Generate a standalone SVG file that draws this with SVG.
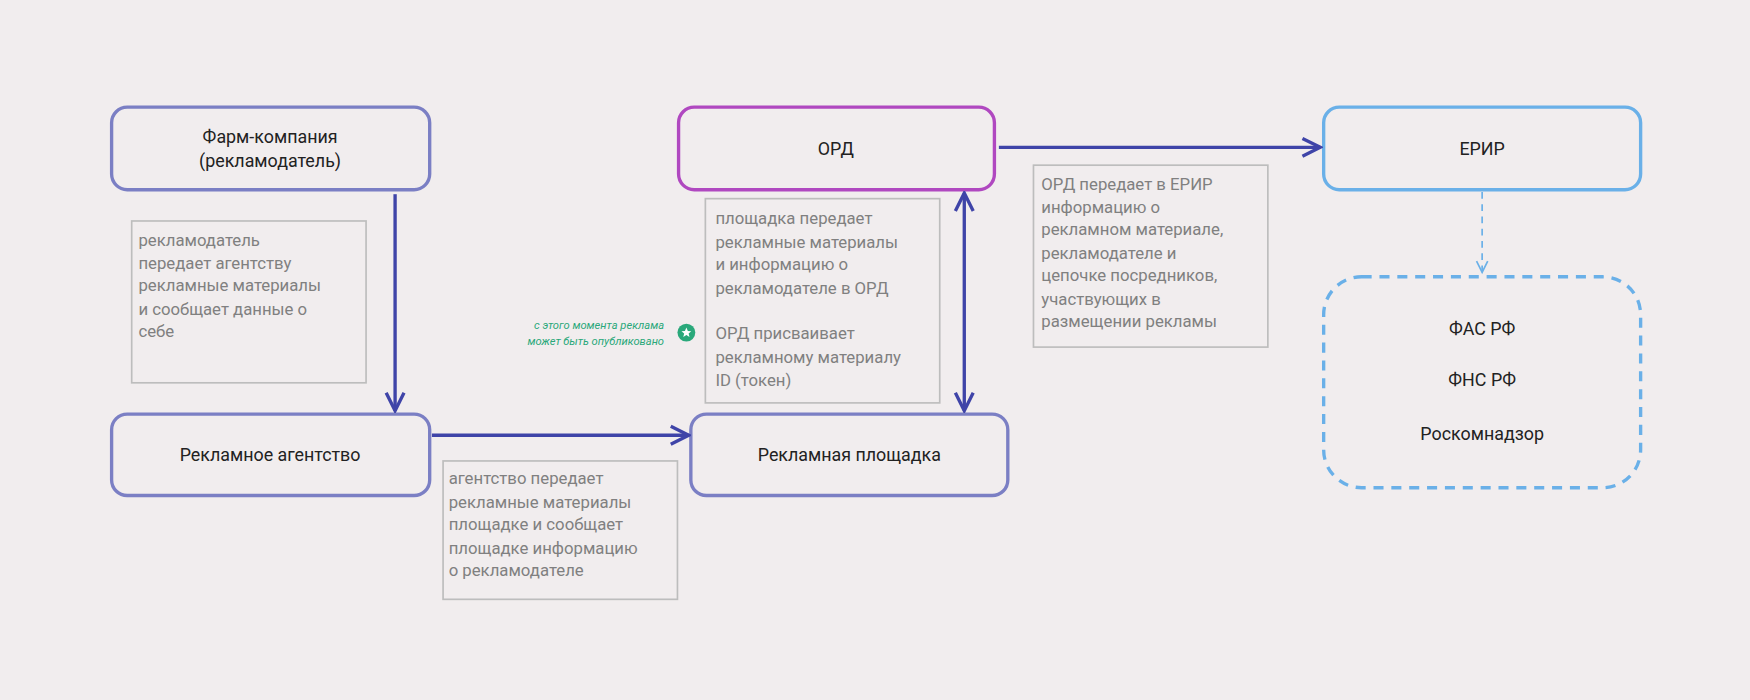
<svg xmlns="http://www.w3.org/2000/svg" width="1750" height="700" viewBox="0 0 1750 700">
<defs>
<style>
.n{fill:none;stroke-width:3}
.t{font-family:Roboto,"Liberation Sans",sans-serif;font-size:16px;fill:#222;text-anchor:middle}
.note{fill:none;stroke:#bdbdbd;stroke-width:1.5}
.nt{font-family:Roboto,"Liberation Sans",sans-serif;font-size:15px;fill:#808080}
.c{stroke:#3f44a8;stroke-width:3;fill:none}
.g{font-family:Roboto,"Liberation Sans",sans-serif;font-size:10px;fill:#2aa87a;font-style:italic;text-anchor:end}
</style>
<marker id="a" viewBox="0 0 20 20" refX="18" refY="10" markerWidth="20" markerHeight="20" markerUnits="userSpaceOnUse" orient="auto-start-reverse"><path d="M2,2 L18,10 L2,18" fill="none" stroke="#3f44a8" stroke-width="3"/></marker>
<marker id="b" viewBox="0 0 14 14" refX="12" refY="7" markerWidth="14" markerHeight="14" markerUnits="userSpaceOnUse" orient="auto"><path d="M2,2 L12,7 L2,12" fill="none" stroke="#6ab0e8" stroke-width="1.5"/></marker>
</defs>
<rect width="1750" height="700" fill="#f1edee"/>
<g transform="scale(1.11607)">
<g id="farm"><rect class="n" x="100" y="96" width="285" height="74" rx="14" stroke="#7b7fc4"/><text class="t" x="242" y="128">Фарм-компания</text><text class="t" x="242" y="150">(рекламодатель)</text></g>
<g id="ord"><rect class="n" x="608" y="96" width="283" height="74" rx="14" stroke="#b048c0"/><text class="t" x="749" y="139">ОРД</text></g>
<g id="erir"><rect class="n" x="1186" y="96" width="284" height="74" rx="14" stroke="#6ab0e8"/><text class="t" x="1328" y="139">ЕРИР</text></g>
<g id="agency"><rect class="n" x="100" y="371" width="285" height="73" rx="14" stroke="#7b7fc4"/><text class="t" x="242" y="413">Рекламное агентство</text></g>
<g id="platform"><rect class="n" x="619" y="371" width="284" height="73" rx="14" stroke="#7b7fc4"/><text class="t" x="761" y="413">Рекламная площадка</text></g>
<g id="regulators"><rect class="n" x="1186" y="248" width="284" height="189" rx="34" stroke="#6ab0e8" stroke-dasharray="9 7"/><text class="t" x="1328" y="300">ФАС РФ</text><text class="t" x="1328" y="346">ФНС РФ</text><text class="t" x="1328" y="394">Роскомнадзор</text></g>
<g id="note1"><rect class="note" x="118" y="198" width="210" height="145"/><text class="nt" x="124"><tspan x="124" y="220">рекламодатель</tspan><tspan x="124" y="241">передает агентству</tspan><tspan x="124" y="261">рекламные материалы</tspan><tspan x="124" y="282">и сообщает данные о</tspan><tspan x="124" y="302">себе</tspan></text></g>
<g id="note2"><rect class="note" x="632" y="178" width="210" height="183"/><text class="nt"><tspan x="641" y="201">площадка передает</tspan><tspan x="641" y="222">рекламные материалы</tspan><tspan x="641" y="242">и информацию о</tspan><tspan x="641" y="263">рекламодателе в ОРД</tspan><tspan x="641" y="304">ОРД присваивает</tspan><tspan x="641" y="325">рекламному материалу</tspan><tspan x="641" y="346">ID (токен)</tspan></text></g>
<g id="note3"><rect class="note" x="926" y="148" width="210" height="163"/><text class="nt"><tspan x="933" y="170">ОРД передает в ЕРИР</tspan><tspan x="933" y="191">информацию о</tspan><tspan x="933" y="211">рекламном материале,</tspan><tspan x="933" y="232">рекламодателе и</tspan><tspan x="933" y="252">цепочке посредников,</tspan><tspan x="933" y="273">участвующих в</tspan><tspan x="933" y="293">размещении рекламы</tspan></text></g>
<g id="note4"><rect class="note" x="397" y="413" width="210" height="124"/><text class="nt"><tspan x="402" y="434">агентство передает</tspan><tspan x="402" y="455">рекламные материалы</tspan><tspan x="402" y="475">площадке и сообщает</tspan><tspan x="402" y="496">площадке информацию</tspan><tspan x="402" y="516">о рекламодателе</tspan></text></g>
<g id="publish"><text class="g" x="595" y="295">с этого момента реклама</text><text class="g" x="595" y="309">может быть опубликовано</text><circle cx="615" cy="298" r="8" fill="#2aa87a"/><path d="M615,293.5 L616.3,296.5 L619.4,296.7 L617,298.8 L617.8,301.9 L615,300.2 L612.2,301.9 L613,298.8 L610.6,296.7 L613.7,296.5 Z" fill="#fff"/></g>
<g id="connectors">
<line class="c" x1="354" y1="174" x2="354" y2="368" marker-end="url(#a)"/>
<line class="c" x1="387" y1="390" x2="617" y2="390" marker-end="url(#a)"/>
<line class="c" x1="895" y1="132" x2="1183" y2="132" marker-end="url(#a)"/>
<line class="c" x1="864" y1="173" x2="864" y2="368" marker-start="url(#a)" marker-end="url(#a)"/>
<line x1="1328" y1="172" x2="1328" y2="244" stroke="#6ab0e8" stroke-width="1.5" stroke-dasharray="6 5" marker-end="url(#b)"/>
</g>
</g>
</svg>
